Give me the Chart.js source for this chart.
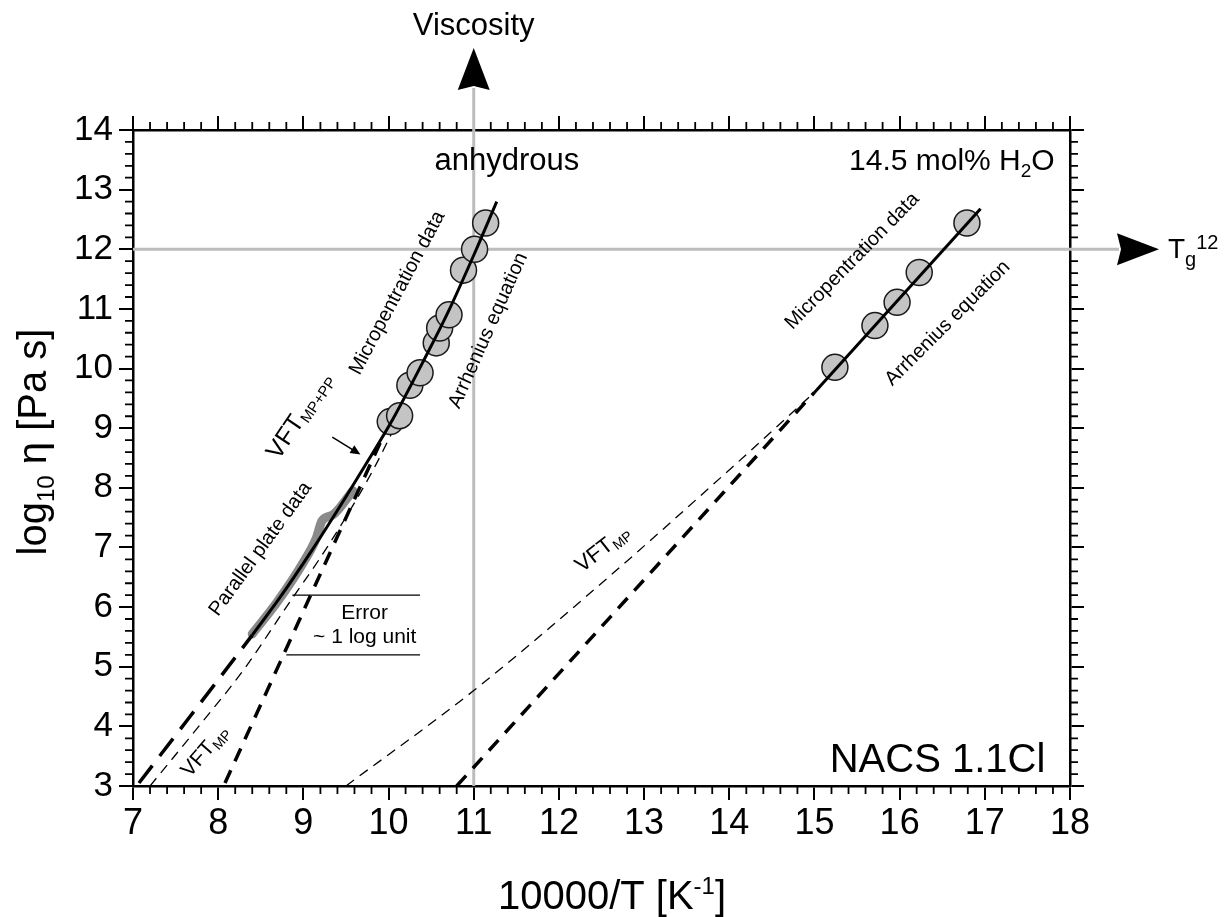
<!DOCTYPE html>
<html lang="en">
<head>
<meta charset="UTF-8">
<title>NACS 1.1Cl viscosity</title>
<script src="https://cdn.jsdelivr.net/npm/chart.js"></script>
<style>
  html, body { margin: 0; padding: 0; background: #fff; }
  #wrap { width: 1228px; height: 917px; }
</style>
</head>
<body>
<div id="wrap"><canvas id="chart" width="1228" height="917"></canvas></div>
<script>
// x = 10000/T [1/K], y = log10 viscosity [Pa s]

// micropenetration data, anhydrous melt
const mpDryT   = [10.02, 10.13, 10.25, 10.37, 10.56, 10.60, 10.71, 10.88, 11.01, 11.14];
const mpDryEta = [9.11, 9.21, 9.72, 9.93, 10.43, 10.68, 10.90, 11.65, 12.00, 12.44];

// micropenetration data, 14.5 mol% H2O
const mpWetT   = [15.24, 15.71, 15.97, 16.23, 16.79];
const mpWetEta = [10.02, 10.72, 11.11, 11.61, 12.44];

// parallel plate measurements (anhydrous)
const ppT   = [8.40, 8.70, 9.00, 9.15, 9.22, 9.35, 9.58];
const ppEta = [5.55, 6.10, 6.75, 7.15, 7.45, 7.55, 7.95];

// VFT fit to MP + PP data, fitted range and extrapolation
const vftAllT      = [8.40, 8.73, 9.10, 9.50, 9.80, 10.05, 10.40, 10.70, 11.00, 11.27];
const vftAllEta    = [5.53, 6.17, 6.95, 7.85, 8.55, 9.15, 10.10, 10.95, 11.90, 12.80];
const vftAllExtT   = [7.07, 7.50, 8.00, 8.40];
const vftAllExtEta = [3.05, 3.85, 4.78, 5.53];

// VFT fit to MP data only
const vftDryT   = [7.20, 7.80, 8.30, 8.80, 9.30, 9.80, 10.05];
const vftDryEta = [3.00, 4.05, 4.95, 6.00, 7.05, 8.25, 8.95];
const vftWetT   = [9.50, 11.00, 12.50, 14.00, 15.00];
const vftWetEta = [3.00, 4.60, 6.40, 8.30, 9.60];

// Arrhenius fits
const arrDryT      = [8.08, 9.98];
const arrDryEta    = [3.05, 9.00];
const arrWetT      = [15.00, 16.95];
const arrWetEta    = [9.60, 12.68];
const arrWetExtT   = [10.80, 15.00];
const arrWetExtEta = [3.00, 9.60];

// error bracket, ~1 log unit
const errHiT   = [8.87, 10.37];
const errHiEta = [6.2, 6.2];
const errLoT   = [8.80, 10.37];
const errLoEta = [5.2, 5.2];

// axes
const xMin = 7, xMax = 18, yMin = 3, yMax = 14, minorStep = 0.2;
const guideT = 11;   // viscosity arrow
const guideEta = 12; // Tg at 10^12 Pa s

const FONT = '"Liberation Sans", Arial, sans-serif';
Chart.defaults.font.family = FONT;

const pts = (xs, ys) => xs.map((x, i) => ({ x: x, y: ys[i] }));

function curve(xs, ys, width, dash, order, color) {
  return {
    data: pts(xs, ys), showLine: true, pointRadius: 0,
    borderColor: color || '#000', borderWidth: width, borderDash: dash || [],
    cubicInterpolationMode: 'monotone', order: order
  };
}

function circles(xs, ys) {
  return {
    data: pts(xs, ys), showLine: false, pointRadius: 13,
    backgroundColor: '#c4c4c4', borderColor: '#1a1a1a', borderWidth: 1.5, order: 2
  };
}

// text with sub/superscript parts
function rich(ctx, parts, x, y, angle, align) {
  ctx.save();
  ctx.translate(x, y);
  ctx.rotate((angle || 0) * Math.PI / 180);
  let w = 0;
  parts.forEach(p => { ctx.font = p.s + 'px ' + FONT; p.w = ctx.measureText(p.t).width; w += p.w; });
  let cx = align === 'right' ? -w : align === 'left' ? 0 : -w / 2;
  ctx.fillStyle = '#000';
  ctx.textAlign = 'left';
  ctx.textBaseline = 'alphabetic';
  parts.forEach(p => { ctx.font = p.s + 'px ' + FONT; ctx.fillText(p.t, cx, p.dy || 0); cx += p.w; });
  ctx.restore();
}

function arrowHead(ctx, tipX, tipY, dirX, dirY, len, half, notch) {
  const nx = -dirY, ny = dirX;
  const bx = tipX - dirX * len, by = tipY - dirY * len;
  ctx.beginPath();
  ctx.moveTo(tipX, tipY);
  ctx.lineTo(bx + nx * half, by + ny * half);
  ctx.lineTo(bx + dirX * notch, by + dirY * notch);
  ctx.lineTo(bx - nx * half, by - ny * half);
  ctx.closePath();
  ctx.fill();
}

// in-plot labels (data coordinates, angle in degrees)
const notes = [
  { x: 10.16, y: 11.28, a: -62, parts: [{ t: 'Micropentration data', s: 20 }] },
  { x: 11.23, y: 10.65, a: -66, parts: [{ t: 'Arrhenius equation', s: 20 }] },
  { x: 9.03,  y: 9.22,  a: -56, parts: [{ t: 'VFT', s: 25 }, { t: 'MP+PP', s: 15, dy: 4 }] },
  { x: 8.55,  y: 6.99,  a: -54, parts: [{ t: 'Parallel plate data', s: 20 }] },
  { x: 7.90,  y: 3.60,  a: -49, parts: [{ t: 'VFT', s: 21 }, { t: 'MP', s: 14, dy: 4 }] },
  { x: 12.56, y: 7.00,  a: -38, parts: [{ t: 'VFT', s: 22 }, { t: 'MP', s: 14, dy: 4 }] },
  { x: 15.49, y: 11.82, a: -45.6, parts: [{ t: 'Micropentration data', s: 20 }] },
  { x: 16.61, y: 10.78, a: -45, parts: [{ t: 'Arrhenius equation', s: 20 }] },
  { x: 9.72,  y: 5.93,  a: 0, parts: [{ t: 'Error', s: 21 }] },
  { x: 9.72,  y: 5.52,  a: 0, parts: [{ t: '~ 1 log unit', s: 21 }] }
];

const decor = {
  id: 'decor',
  beforeDatasetsDraw(chart) {
    const ctx = chart.ctx, xs = chart.scales.x, ys = chart.scales.y;
    const gx = xs.getPixelForValue(guideT), gy = ys.getPixelForValue(guideEta);
    const { left, bottom } = chart.chartArea;
    ctx.save();
    ctx.strokeStyle = '#bdbdbd';
    ctx.lineWidth = 3;
    ctx.beginPath();
    ctx.moveTo(gx, bottom); ctx.lineTo(gx, 88);
    ctx.moveTo(left, gy); ctx.lineTo(1119, gy);
    ctx.stroke();
    ctx.fillStyle = '#000';
    arrowHead(ctx, gx, 48, 0, -1, 42, 16, 4);
    arrowHead(ctx, 1159, gy, 1, 0, 42, 16, 4);
    ctx.restore();
  },
  afterDraw(chart) {
    const ctx = chart.ctx, xs = chart.scales.x, ys = chart.scales.y;
    const { left, right, top, bottom } = chart.chartArea;

    // minor ticks on all four sides
    ctx.save();
    ctx.strokeStyle = '#000';
    ctx.lineWidth = 1.8;
    ctx.beginPath();
    const nx = Math.round((xMax - xMin) / minorStep);
    for (let i = 1; i < nx; i++) {
      if (i % 5 === 0) continue;
      const px = xs.getPixelForValue(xMin + i * minorStep);
      ctx.moveTo(px, bottom); ctx.lineTo(px, bottom + 8);
      ctx.moveTo(px, top); ctx.lineTo(px, top - 8);
    }
    const ny = Math.round((yMax - yMin) / minorStep);
    for (let i = 1; i < ny; i++) {
      if (i % 5 === 0) continue;
      const py = ys.getPixelForValue(yMin + i * minorStep);
      ctx.moveTo(left, py); ctx.lineTo(left - 8, py);
      ctx.moveTo(right, py); ctx.lineTo(right + 8, py);
    }
    ctx.stroke();

    // arrow pointing at the VFT curve
    const ax0 = xs.getPixelForValue(9.34), ay0 = ys.getPixelForValue(8.85);
    const ax1 = xs.getPixelForValue(9.67), ay1 = ys.getPixelForValue(8.56);
    const L = Math.hypot(ax1 - ax0, ay1 - ay0);
    ctx.lineWidth = 1.5;
    ctx.beginPath();
    ctx.moveTo(ax0, ay0); ctx.lineTo(ax1 - (ax1 - ax0) / L * 6, ay1 - (ay1 - ay0) / L * 6);
    ctx.stroke();
    ctx.fillStyle = '#000';
    arrowHead(ctx, ax1, ay1, (ax1 - ax0) / L, (ay1 - ay0) / L, 10, 4.5, 0);
    ctx.restore();

    notes.forEach(n => {
      const s = n.parts[0].s;
      rich(ctx, n.parts, xs.getPixelForValue(n.x), ys.getPixelForValue(n.y) + s * 0.36 * Math.cos(n.a * Math.PI / 180),
        n.a, 'center');
    });

    rich(ctx, [{ t: 'anhydrous', s: 31 }], xs.getPixelForValue(11.39), ys.getPixelForValue(13.33), 0, 'center');
    rich(ctx, [{ t: '14.5 mol% H', s: 30 }, { t: '2', s: 19, dy: 7 }, { t: 'O', s: 30 }],
      xs.getPixelForValue(17.82), ys.getPixelForValue(13.33), 0, 'right');
    rich(ctx, [{ t: 'NACS 1.1Cl', s: 40 }], xs.getPixelForValue(17.71), ys.getPixelForValue(3.24), 0, 'right');

    // axis titles and arrow captions
    rich(ctx, [{ t: 'Viscosity', s: 31 }], xs.getPixelForValue(guideT), 35, 0, 'center');
    rich(ctx, [{ t: 'T', s: 28 }, { t: 'g', s: 20, dy: 8 }, { t: '12', s: 20, dy: -9 }],
      1168, ys.getPixelForValue(guideEta) + 9, 0, 'left');
    rich(ctx, [{ t: '10000/T [K', s: 40 }, { t: '-1', s: 24, dy: -15 }, { t: ']', s: 40 }], 612, 909, 0, 'center');
    rich(ctx, [{ t: 'log', s: 40 }, { t: '10', s: 24, dy: 8 }, { t: ' \u03b7 [Pa s]', s: 40 }], 46, 442, -90, 'center');
  }
};

const axisGrid = { drawOnChartArea: false, color: '#000', lineWidth: 2, tickLength: 14 };
const axisBorder = { color: '#000', width: 2.5 };

new Chart(document.getElementById('chart'), {
  type: 'scatter',
  data: {
    datasets: [
      curve(vftAllT, vftAllEta, 3, [], 1),
      curve(arrWetT, arrWetEta, 3, [], 1),
      circles(mpDryT, mpDryEta),
      circles(mpWetT, mpWetEta),
      curve(vftAllExtT, vftAllExtEta, 3.5, [22, 12], 3),
      curve(vftDryT, vftDryEta, 1.3, [10, 7], 3),
      curve(vftWetT, vftWetEta, 1.3, [10, 7], 3),
      curve(arrDryT, arrDryEta, 3.5, [14, 10], 3),
      curve(arrWetExtT, arrWetExtEta, 3.5, [14, 10], 3),
      curve(errHiT, errHiEta, 1.3, [], 3),
      curve(errLoT, errLoEta, 1.3, [], 3),
      Object.assign(curve(ppT, ppEta, 9, [], 4, '#8a8a8a'), { borderCapStyle: 'round', borderJoinStyle: 'round' })
    ]
  },
  options: {
    responsive: false,
    animation: false,
    layout: { padding: 0 },
    plugins: { legend: { display: false }, tooltip: { enabled: false } },
    scales: {
      x: {
        type: 'linear', position: 'bottom', min: xMin, max: xMax,
        ticks: { stepSize: 1, color: '#000', font: { size: 36 }, padding: 2, maxRotation: 0, autoSkip: false },
        grid: axisGrid, border: axisBorder,
        afterFit: s => { s.height = 131; }
      },
      x2: {
        type: 'linear', position: 'top', min: xMin, max: xMax,
        ticks: { stepSize: 1, display: false },
        grid: axisGrid, border: axisBorder,
        afterFit: s => { s.height = 130; }
      },
      y: {
        type: 'linear', position: 'left', min: yMin, max: yMax,
        ticks: { stepSize: 1, color: '#000', font: { size: 35 }, padding: 6, autoSkip: false },
        grid: axisGrid, border: axisBorder,
        afterFit: s => { s.width = 133; }
      },
      y2: {
        type: 'linear', position: 'right', min: yMin, max: yMax,
        ticks: { stepSize: 1, display: false },
        grid: axisGrid, border: axisBorder,
        afterFit: s => { s.width = 158; }
      }
    }
  },
  plugins: [decor]
});
</script>
</body>
</html>
